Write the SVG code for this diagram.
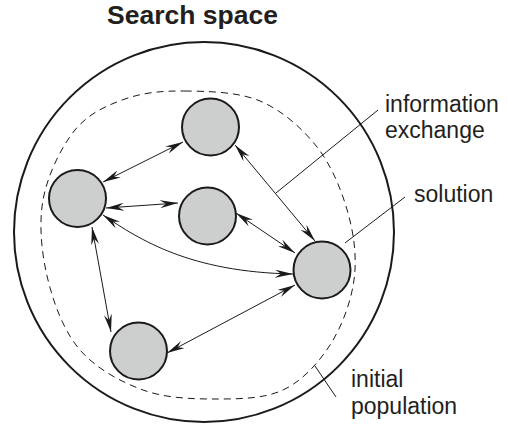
<svg xmlns="http://www.w3.org/2000/svg" width="508" height="424" viewBox="0 0 508 424">
<style>
.node{fill:#cdcfcf;stroke:#1a1a1a;stroke-width:2}
.conn{fill:none;stroke:#1a1a1a;stroke-width:1;marker-start:url(#ah);marker-end:url(#ah)}
.lead{fill:none;stroke:#1a1a1a;stroke-width:1}
.lbl{font-family:"Liberation Sans",Arial,sans-serif;font-size:23px;fill:#231f20}
.ttl{font-family:"Liberation Sans",Arial,sans-serif;font-size:26.5px;font-weight:bold;fill:#231f20}
</style>
<defs>
<marker id="ah" viewBox="0 0 18 8" refX="18" refY="4" markerWidth="18" markerHeight="8" markerUnits="userSpaceOnUse" orient="auto-start-reverse">
<path d="M0,0 L18,4 L0,8 L6,4 Z" fill="#1a1a1a"/>
</marker>
</defs>
<text class="ttl" x="107" y="24">Search space</text>
<g id="search-space">
<circle cx="204" cy="232" r="190" fill="none" stroke="#1a1a1a" stroke-width="2"/>
</g>
<g id="initial-population-boundary">
<path d="M185,91 C207.5,91.3 238,91.7 260,101 C282,110.3 302.3,128.3 317,147 C331.7,165.7 341.8,190.8 348,213 C354.2,235.2 357,258 354,280 C351,302 341.8,326.7 330,345 C318.2,363.3 302.2,381 283,390 C263.8,399 238.3,399 215,399 C191.7,399 165.5,398.2 143,390 C120.5,381.8 95.8,368.3 80,350 C64.2,331.7 54.2,305 48,280 C41.8,255 38.5,225 43,200 C47.5,175 61.3,146.8 75,130 C88.7,113.2 106.7,105.5 125,99 C143.3,92.5 162.5,90.7 185,91 Z" fill="none" stroke="#1a1a1a" stroke-width="1" stroke-dasharray="7 5"/>
</g>
<g id="connectors">
<line class="conn" x1="103" y1="182" x2="183" y2="142"/>
<line class="conn" x1="106" y1="208" x2="178" y2="203"/>
<path class="conn" d="M103,215 C140,240 190,272 293,274"/>
<line class="conn" x1="235" y1="145" x2="315" y2="241"/>
<line class="conn" x1="236" y1="213" x2="295" y2="253"/>
<line class="conn" x1="92" y1="227" x2="111" y2="332"/>
<line class="conn" x1="167" y1="353" x2="295" y2="285"/>
</g>
<g id="node-top"><circle class="node" cx="210.5" cy="127" r="28.5"/></g>
<g id="node-left"><circle class="node" cx="77.5" cy="198.5" r="28.5"/></g>
<g id="node-middle"><circle class="node" cx="207.5" cy="216" r="28.5"/></g>
<g id="node-right"><circle class="node" cx="322" cy="270" r="28.5"/></g>
<g id="node-bottom"><circle class="node" cx="138.5" cy="351" r="28.5"/></g>
<g id="label-information-exchange">
<line class="lead" x1="378" y1="110" x2="276" y2="193"/>
<text class="lbl" x="385" y="112">information</text>
<text class="lbl" x="385" y="138">exchange</text>
</g>
<g id="label-solution">
<line class="lead" x1="405" y1="197" x2="345" y2="243"/>
<text class="lbl" x="414" y="202">solution</text>
</g>
<g id="label-initial-population">
<line class="lead" x1="315" y1="366" x2="336" y2="397"/>
<text class="lbl" x="351" y="387">initial</text>
<text class="lbl" x="351" y="414">population</text>
</g>
</svg>
